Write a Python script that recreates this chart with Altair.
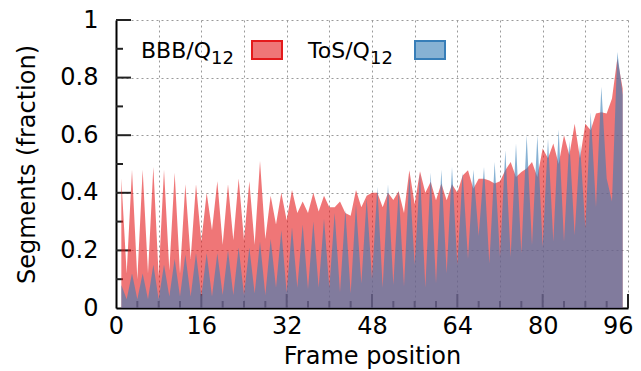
import altair as alt
import pandas as pd

# ---- data ----
frames = list(range(1, 96))
bbb = [0.45, 0.12, 0.48, 0.10, 0.48, 0.12, 0.49, 0.11, 0.48, 0.13,
       0.47, 0.12, 0.43, 0.17, 0.43, 0.23, 0.40, 0.27, 0.44, 0.22,
       0.43, 0.235, 0.45, 0.235, 0.44, 0.22, 0.51, 0.24, 0.39, 0.29,
       0.40, 0.305, 0.41, 0.33, 0.37, 0.33, 0.40, 0.335, 0.39, 0.35,
       0.35, 0.37, 0.33, 0.32, 0.41, 0.35, 0.39, 0.40, 0.40, 0.35,
       0.40, 0.375, 0.405, 0.33, 0.478, 0.36, 0.475, 0.40, 0.438, 0.374,
       0.432, 0.374, 0.43, 0.40, 0.46, 0.478, 0.414, 0.449, 0.449, 0.443,
       0.432, 0.44, 0.478, 0.507, 0.455, 0.472, 0.484, 0.507, 0.455, 0.554,
       0.52, 0.571, 0.50, 0.60, 0.53, 0.64, 0.52, 0.64, 0.617, 0.675,
       0.68, 0.675, 0.727, 0.866, 0.762]
tos = [0.08, 0.03, 0.12, 0.03, 0.12, 0.03, 0.15, 0.03, 0.15, 0.04,
       0.17, 0.04, 0.185, 0.04, 0.19, 0.04, 0.19, 0.04, 0.19, 0.045,
       0.20, 0.045, 0.21, 0.045, 0.21, 0.05, 0.23, 0.045, 0.24, 0.07,
       0.27, 0.055, 0.28, 0.07, 0.29, 0.065, 0.30, 0.07, 0.31, 0.07,
       0.33, 0.055, 0.34, 0.05, 0.36, 0.085, 0.38, 0.10, 0.42, 0.07,
       0.43, 0.08, 0.41, 0.075, 0.46, 0.15, 0.47, 0.07, 0.47, 0.085,
       0.48, 0.12, 0.49, 0.15, 0.47, 0.17, 0.48, 0.25, 0.49, 0.154,
       0.507, 0.177, 0.548, 0.177, 0.571, 0.19, 0.60, 0.218, 0.60, 0.212,
       0.588, 0.23, 0.62, 0.23, 0.58, 0.253, 0.57, 0.276, 0.68, 0.35,
       0.768, 0.45, 0.37, 0.889, 0.74]

x_tick_values = [0, 4, 8, 12, 16, 20, 24, 28, 32, 36, 40, 44, 48, 52, 56, 60,
                 64, 68, 72, 76, 80, 84, 88, 92, 96]
x_major = [16, 32, 48, 64, 80, 96]
x_minor = [4, 8, 12, 20, 24, 28, 36, 40, 44, 52, 56, 60, 68, 72, 76, 84, 88, 92]
y_tick_values = [0, 0.1, 0.2, 0.3, 0.4, 0.5, 0.6, 0.7, 0.8, 0.9, 1.0]
y_major = [0.2, 0.4, 0.6, 0.8, 1.0]
y_minor = [0.1, 0.3, 0.5, 0.7, 0.9]

series_names = ["BBB/Q", "ToS/Q"]
series_sub = ["12", "12"]
fill_colors = ["#e41a1c", "#377eb8"]

df = pd.DataFrame({"frame": frames, "bbb": bbb, "tos": tos})

FONT = "DejaVu Sans"
FS = 24
LEG_FS = 22

xs = alt.Scale(domain=[0, 96], nice=False, zero=False)
ys = alt.Scale(domain=[0, 1], nice=False)

xaxis = alt.Axis(values=x_tick_values,
                 labelExpr="datum.value % 16 == 0 ? datum.label : ''",
                 labelAlign={"condition": {"test": "datum.value == 96", "value": "right"}, "value": "center"},
                 labelOffset={"condition": {"test": "datum.value == 96", "value": 5}, "value": 0},
                 grid=True, gridDash=[2, 3], gridColor="#9a9a9a", gridWidth=1,
                 ticks=False, domainColor="#000000", domainWidth=2,
                 labelFont=FONT, labelFontSize=FS, labelColor="#000000",
                 labelPadding=6, labelFlush=False, labelOverlap=False,
                 title="Frame position", titleFont=FONT, titleFontSize=FS,
                 titleFontWeight="normal", titleColor="#000000", titlePadding=6)
yaxis = alt.Axis(values=y_tick_values,
                 labelExpr="round(datum.value*10) % 2 == 0 ? format(datum.value, '~g') : ''",
                 grid=True, gridDash=[2, 3], gridColor="#9a9a9a", gridWidth=1,
                 ticks=False, domainColor="#000000", domainWidth=2,
                 labelFont=FONT, labelFontSize=FS, labelColor="#000000",
                 labelPadding=18, labelFlush=False, labelOverlap=False,
                 title="Segments (fraction)", titleFont=FONT, titleFontSize=FS,
                 titleFontWeight="normal", titleColor="#000000", titlePadding=20)

base = alt.Chart(df)

red = base.mark_area(color=fill_colors[0], opacity=0.6, interpolate="linear").encode(
    x=alt.X("frame:Q", scale=xs, axis=xaxis),
    y=alt.Y("bbb:Q", scale=ys, axis=yaxis),
)
blue = base.mark_area(color=fill_colors[1], opacity=0.6, interpolate="linear").encode(
    x=alt.X("frame:Q", scale=xs),
    y=alt.Y("tos:Q", scale=ys),
)

tick_color = "#222222"
xt_major = alt.Chart(pd.DataFrame({"v": x_major})).mark_rule(color=tick_color, strokeWidth=2).encode(
    x=alt.X("v:Q", scale=xs), y=alt.value(288), y2=alt.value(274))
xt_minor = alt.Chart(pd.DataFrame({"v": x_minor})).mark_rule(color=tick_color, strokeWidth=2).encode(
    x=alt.X("v:Q", scale=xs), y=alt.value(288), y2=alt.value(281))
yt_major = alt.Chart(pd.DataFrame({"v": y_major})).mark_rule(color=tick_color, strokeWidth=2).encode(
    y=alt.Y("v:Q", scale=ys), x=alt.value(0), x2=alt.value(15))
yt_minor = alt.Chart(pd.DataFrame({"v": y_minor})).mark_rule(color=tick_color, strokeWidth=2).encode(
    y=alt.Y("v:Q", scale=ys), x=alt.value(0), x2=alt.value(7))

# ---- manual legend (label left of swatch, as in the reference) ----
leg_df = pd.DataFrame({"name": series_names, "sub": series_sub})
legend_layers = []
name_x = [25, 192]
sub_x = [95, 254]
sw_x = [136, 299]
for i in range(2):
    one = alt.Chart(leg_df.iloc[[i]])
    legend_layers.append(one.mark_text(font=FONT, fontSize=LEG_FS, align="left", baseline="alphabetic",
                                       color="#000000").encode(
        text="name:N", x=alt.value(name_x[i]), y=alt.value(38)))
    legend_layers.append(one.mark_text(font=FONT, fontSize=18, align="left", baseline="alphabetic",
                                       color="#000000").encode(
        text="sub:N", x=alt.value(sub_x[i]), y=alt.value(44)))
    legend_layers.append(one.mark_rect(fill=fill_colors[i], fillOpacity=0.6, stroke=fill_colors[i],
                                       strokeWidth=2).encode(
        x=alt.value(sw_x[i]), x2=alt.value(sw_x[i] + 30), y=alt.value(21), y2=alt.value(39)))

chart = alt.layer(xt_major, xt_minor, yt_major, yt_minor, red, blue, *legend_layers).properties(
    width=512, height=288,
    padding={"left": 116, "top": 20, "right": 13, "bottom": 63},
    autosize=alt.AutoSizeParams(type="none"),
    background="white",
).configure_view(strokeWidth=0)

chart.save("out.html", embed_options={"renderer": "svg", "actions": False})
